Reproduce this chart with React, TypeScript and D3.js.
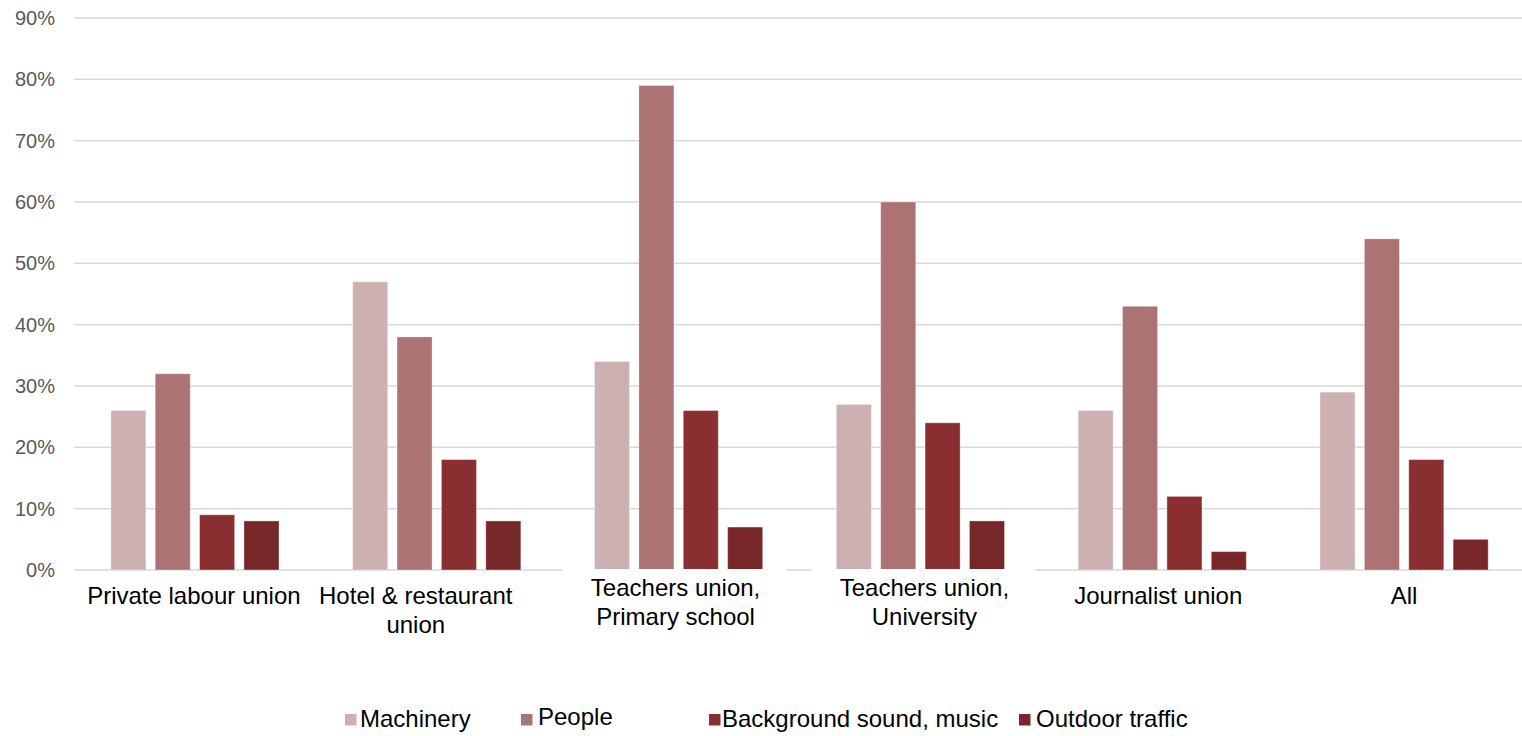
import React from "react";
import * as d3 from "d3";

// Share of respondents bothered by each noise source, per union group (%)
const categories: string[][] = [
  ["Private labour union"],
  ["Hotel & restaurant", "union"],
  ["Teachers union,", "Primary school"],
  ["Teachers union,", "University"],
  ["Journalist union"],
  ["All"],
];
const seriesNames = ["Machinery", "People", "Background sound, music", "Outdoor traffic"];
const machinery = [26, 47, 34, 27, 26, 29];
const people = [32, 38, 79, 60, 43, 54];
const background = [9, 18, 26, 24, 12, 18];
const outdoor = [8, 8, 7, 8, 3, 5];
const yTicks = [0, 10, 20, 30, 40, 50, 60, 70, 80, 90];

const seriesValues = [machinery, people, background, outdoor];
const colors = ["#CDB1B2", "#AB7373", "#8B2E31", "#772728"];

const W = 1522;
const H = 736;
const plot = { left: 74, right: 1525, top: 18, bottom: 570 };

// small nudges of the category labels relative to their group centre
const labelShift = [-1, -21, -3, 4, -4, 0];
const labelTop = [604, 604, 596, 596, 604, 604];
// labels that sit on an opaque box over the baseline
const labelBox = [false, false, true, true, false, false];

// legend layout: square x, text x, baseline
const legendItems = [
  { sx: 345, tx: 360, ty: 727 },
  { sx: 521, tx: 538, ty: 725 },
  { sx: 709, tx: 722, ty: 727 },
  { sx: 1019, tx: 1036, ty: 727 },
];

export default function App() {
  const idx = categories.map((_, i) => String(i));
  const x0 = d3.scaleBand<string>().domain(idx).range([plot.left, plot.right]);
  const x1 = d3
    .scaleBand<string>()
    .domain(seriesNames)
    .range([0, x0.bandwidth()])
    .paddingInner(0.21)
    .paddingOuter(0.83);
  const y = d3.scaleLinear().domain([0, 90]).range([plot.bottom, plot.top]);

  const font = "'Liberation Sans', Arial, sans-serif";

  return (
    <svg
      width={W}
      height={H}
      style={{ position: "absolute", left: 0, top: 0, background: "#fff" }}
      fontFamily={font}
    >
      <rect width={W} height={H} fill="#fff" />
      {yTicks.map((t) => (
        <g key={t}>
          <line
            x1={plot.left}
            x2={plot.right}
            y1={y(t)}
            y2={y(t)}
            stroke="#D9D9D9"
            strokeWidth={1.5}
          />
          <text
            x={55}
            y={y(t) + 7}
            textAnchor="end"
            fontSize={20}
            fill="#595959"
          >
            {t}%
          </text>
        </g>
      ))}

      {seriesValues.map((vals, s) =>
        vals.map((v, i) => (
          <rect
            key={`${s}-${i}`}
            x={(x0(String(i)) ?? 0) + (x1(seriesNames[s]) ?? 0)}
            y={y(v)}
            width={x1.bandwidth()}
            height={y(0) - y(v)}
            fill={colors[s]}
            stroke="#ffffff"
            strokeOpacity={0.35}
            strokeWidth={1}
          />
        ))
      )}

      {categories.map((lines, i) => {
        const cx = (x0(String(i)) ?? 0) + x0.bandwidth() / 2 + labelShift[i];
        return (
          <g key={i}>
            {labelBox[i] && (
              <rect
                x={cx - 113}
                y={plot.bottom - 1}
                width={224}
                height={68}
                fill="#fff"
              />
            )}
            {lines.map((ln, j) => (
              <text
                key={j}
                x={cx}
                y={labelTop[i] + j * 29}
                textAnchor="middle"
                fontSize={24}
                fill="#000"
              >
                {ln}
              </text>
            ))}
          </g>
        );
      })}

      {legendItems.map((it, s) => (
        <g key={s}>
          <rect x={it.sx} y={714} width={11.5} height={11.5} fill={colors[s]} />
          <text x={it.tx} y={it.ty} fontSize={24} fill="#000">
            {seriesNames[s]}
          </text>
        </g>
      ))}
    </svg>
  );
}
